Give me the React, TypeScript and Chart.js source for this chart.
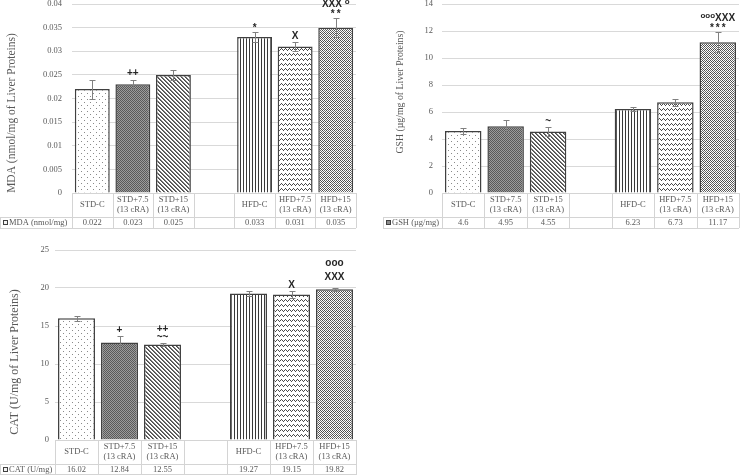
import React, { useEffect, useRef } from 'react';
import { Chart, registerables } from 'chart.js';
Chart.register(...registerables);

const SERIF = '"Liberation Serif", "Times New Roman", serif';
const SANS = '"Liberation Sans", Arial, sans-serif';

// ---------- data ----------
const categories: string[][] = [
  ['STD-C'],
  ['STD+7.5', '(13 cRA)'],
  ['STD+15', '(13 cRA)'],
  [''],
  ['HFD-C'],
  ['HFD+7.5', '(13 cRA)'],
  ['HFD+15', '(13 cRA)'],
];

const mdaValues: (number | null)[] = [0.022, 0.023, 0.025, null, 0.033, 0.031, 0.035];
const mdaErrors: (number | null)[] = [0.002, 0.001, 0.0011, null, 0.0011, 0.0009, 0.002];
const mdaTicks = [0, 0.005, 0.01, 0.015, 0.02, 0.025, 0.03, 0.035, 0.04];

const gshValues: (number | null)[] = [4.6, 4.95, 4.55, null, 6.23, 6.73, 11.17];
const gshErrors: (number | null)[] = [0.25, 0.44, 0.33, null, 0.15, 0.25, 0.76];
const gshTicks = [0, 2, 4, 6, 8, 10, 12, 14];

const catValues: (number | null)[] = [16.02, 12.84, 12.55, null, 19.27, 19.15, 19.82];
const catErrors: (number | null)[] = [0.3, 0.78, 0.2, null, 0.3, 0.45, 0.2];
const catTicks = [0, 5, 10, 15, 20, 25];

type Mark = { i: number; lines: string[]; lead?: number; step?: number };
const mdaMarks: Mark[] = [
  { i: 1, lines: ['++'] },
  { i: 4, lines: ['*'] },
  { i: 5, lines: ['X'] },
  { i: 6, lines: ['XXX |^o', '**'] },
];
const gshMarks: Mark[] = [
  { i: 2, lines: ['~'] },
  { i: 6, lines: ['^ooo|XXX', '***'] },
];
const catMarks: Mark[] = [
  { i: 1, lines: ['+'] },
  { i: 2, lines: ['++', '~~'] },
  { i: 5, lines: ['X'] },
  { i: 6, lines: ['ooo', 'XXX'], lead: 11, step: 14 },
];

const barKinds = ['dots', 'check', 'diag', 'none', 'vert', 'zig', 'dense'];

// ---------- patterns ----------
function makePattern(kind: string): CanvasPattern | string {
  const c = document.createElement('canvas');
  const ctx = c.getContext('2d')!;
  const size = (w: number, h: number) => {
    c.width = w;
    c.height = h;
  };
  const bg = (col: string) => {
    ctx.fillStyle = col;
    ctx.fillRect(0, 0, c.width, c.height);
  };
  const px = (x: number, y: number, col: string) => {
    ctx.fillStyle = col;
    ctx.fillRect(x, y, 1, 1);
  };
  switch (kind) {
    case 'dots':
      size(6, 6);
      bg('#ffffff');
      px(0, 0, '#8a8a8a');
      px(3, 3, '#8a8a8a');
      break;
    case 'check':
      size(2, 2);
      bg('#9c9c9c');
      px(0, 0, '#5a5a5a');
      px(1, 1, '#5a5a5a');
      break;
    case 'diag':
      size(4, 4);
      bg('#ffffff');
      for (let i = 0; i < 4; i++) {
        px(i, i, '#4a4a4a');
        px((i + 1) % 4, i, '#7a7a7a');
      }
      break;
    case 'vert':
      size(3, 1);
      bg('#ffffff');
      px(0, 0, '#3a3a3a');
      break;
    case 'zig': {
      size(4, 5);
      bg('#ffffff');
      const ys = [1, 0, 1, 2];
      ys.forEach((y, x) => px(x, y, '#4a4a4a'));
      break;
    }
    case 'dense': {
      size(4, 4);
      bg('#ffffff');
      const ys = [0, 1, 2, 1];
      ys.forEach((y, x) => {
        px(x, y, '#4a4a4a');
        px(x, (y + 2) % 4, '#6a6a6a');
      });
      break;
    }
    default:
      return 'rgba(0,0,0,0)';
  }
  return ctx.createPattern(c, 'repeat')!;
}

// ---------- panel spec ----------
type PanelSpec = {
  values: (number | null)[];
  errors: (number | null)[];
  ticks: number[];
  marks: Mark[];
  title: string;
  titleSize: number;
  titleX: number;
  titleY: number;
  series: string;
  keyFill: string;
  left: number;
  top: number;
  width: number;
  height: number;
  pad: { top: number; right: number; bottom: number; left: number };
  axisWidth: number;
  tickPad: number;
  legendLeft: number;
  row1: number;
  row2: number;
};

const panels: PanelSpec[] = [
  {
    values: mdaValues,
    errors: mdaErrors,
    ticks: mdaTicks,
    marks: mdaMarks,
    title: 'MDA (nmol/mg of Liver Proteins)',
    titleSize: 11.5,
    titleX: 12,
    titleY: 125,
    series: 'MDA (nmol/mg)',
    keyFill: '#f2f2f2',
    left: 0,
    top: -12,
    width: 362,
    height: 244,
    pad: { top: 16, right: 6, bottom: 39, left: 0 },
    axisWidth: 72,
    tickPad: 10,
    legendLeft: 0,
    row1: 24,
    row2: 11,
  },
  {
    values: gshValues,
    errors: gshErrors,
    ticks: gshTicks,
    marks: gshMarks,
    title: 'GSH (µg/mg of Liver Proteins)',
    titleSize: 9.8,
    titleX: 30,
    titleY: 104,
    series: 'GSH (µg/mg)',
    keyFill: '#8c8c8c',
    left: 370,
    top: -12,
    width: 370,
    height: 244,
    pad: { top: 16, right: 1, bottom: 39, left: 0 },
    axisWidth: 72,
    tickPad: 9,
    legendLeft: 13,
    row1: 24,
    row2: 11,
  },
  {
    values: catValues,
    errors: catErrors,
    ticks: catTicks,
    marks: catMarks,
    title: 'CAT (U/mg of Liver Proteins)',
    titleSize: 12,
    titleX: 15,
    titleY: 128,
    series: 'CAT (U/mg)',
    keyFill: '#f2f2f2',
    left: 0,
    top: 234,
    width: 362,
    height: 241,
    pad: { top: 16, right: 6, bottom: 35, left: 0 },
    axisWidth: 55,
    tickPad: 6,
    legendLeft: 0,
    row1: 24,
    row2: 11,
  },
];

function drawMarkLine(ctx: CanvasRenderingContext2D, line: string, cx: number, cy: number) {
  const segs = line.split('|').map((s) => (s.startsWith('^') ? { t: s.slice(1), sup: true } : { t: s, sup: false }));
  const fontFor = (sup: boolean) => (sup ? `bold 8px ${SANS}` : `bold 10px ${SANS}`);
  const spacingFor = (t: string) => (t.includes('*') ? 2 : 0);
  let total = 0;
  const widths = segs.map((s) => {
    ctx.font = fontFor(s.sup);
    const w = ctx.measureText(s.t).width + spacingFor(s.t) * (s.t.length - 1);
    total += w;
    return w;
  });
  let x = cx - total / 2;
  segs.forEach((s, k) => {
    ctx.font = fontFor(s.sup);
    ctx.textAlign = 'left';
    ctx.textBaseline = 'middle';
    const dy = s.sup ? -2.5 : s.t.includes('*') ? 2.5 : 0;
    const sp = spacingFor(s.t);
    let cxp = x;
    for (const ch of s.t) {
      ctx.fillText(ch, cxp, cy + dy);
      cxp += ctx.measureText(ch).width + sp;
    }
    x += widths[k];
  });
}

function Panel({ spec }: { spec: PanelSpec }) {
  const ref = useRef<HTMLCanvasElement | null>(null);
  useEffect(() => {
    const canvas = ref.current;
    if (!canvas) return;
    const fills = barKinds.map((k) => makePattern(k));

    const errorPlugin = {
      id: 'errorBars',
      afterDatasetsDraw(chart: any) {
        const { ctx, scales } = chart;
        const x = scales.x;
        const y = scales.y;
        ctx.save();
        ctx.strokeStyle = '#808080';
        ctx.lineWidth = 1;
        spec.values.forEach((v, i) => {
          const e = spec.errors[i];
          if (v == null || e == null) return;
          const cx = Math.round(x.getPixelForValue(i)) + 0.5;
          const yt = Math.round(y.getPixelForValue(v + e)) + 0.5;
          const yb = Math.round(y.getPixelForValue(v - e)) + 0.5;
          ctx.beginPath();
          ctx.moveTo(cx, yt);
          ctx.lineTo(cx, yb);
          ctx.moveTo(cx - 3, yt);
          ctx.lineTo(cx + 3, yt);
          ctx.moveTo(cx - 3, yb);
          ctx.lineTo(cx + 3, yb);
          ctx.stroke();
        });
        ctx.restore();
      },
    };

    const tablePlugin = {
      id: 'dataTable',
      afterDraw(chart: any) {
        const { ctx, chartArea: ca, scales } = chart;
        const x = scales.x;
        const y = scales.y;
        const n = categories.length;
        const slot = (ca.right - ca.left) / n;
        const top = ca.bottom;
        const r1 = top + spec.row1;
        const r2 = r1 + spec.row2;
        const crisp = (v: number) => Math.round(v) + 0.5;
        const bottomLine = Math.min(crisp(r2), chart.height - 0.5);
        ctx.save();
        ctx.strokeStyle = '#d4d4d4';
        ctx.lineWidth = 1;
        ctx.beginPath();
        ctx.moveTo(ca.left, crisp(top));
        ctx.lineTo(ca.right, crisp(top));
        ctx.moveTo(spec.legendLeft, crisp(r1));
        ctx.lineTo(ca.right, crisp(r1));
        ctx.moveTo(spec.legendLeft, bottomLine);
        ctx.lineTo(ca.right, bottomLine);
        for (let k = 0; k <= n; k++) {
          const bx = crisp(x.getPixelForValue(Math.min(k, n - 1)) + (k === n ? slot / 2 : -slot / 2));
          ctx.moveTo(bx, top);
          ctx.lineTo(bx, r2);
        }
        ctx.moveTo(crisp(spec.legendLeft), r1);
        ctx.lineTo(crisp(spec.legendLeft), r2);
        ctx.stroke();

        // category labels & values
        ctx.fillStyle = '#595959';
        ctx.font = `8.5px ${SERIF}`;
        ctx.textAlign = 'center';
        ctx.textBaseline = 'middle';
        categories.forEach((lines, i) => {
          const cx = x.getPixelForValue(i);
          const mid = (top + r1) / 2;
          const lh = 10.5;
          lines.forEach((t, j) => {
            ctx.fillText(t, cx, mid + (j - (lines.length - 1) / 2) * lh);
          });
          const v = spec.values[i];
          if (v != null) ctx.fillText(String(v), cx, (r1 + r2) / 2 + 0.5);
        });

        // legend key cell
        const ky = (r1 + r2) / 2;
        ctx.fillStyle = spec.keyFill;
        ctx.fillRect(spec.legendLeft + 3, Math.round(ky - 2.5), 5, 5);
        ctx.strokeStyle = '#404040';
        ctx.strokeRect(spec.legendLeft + 3.5, Math.round(ky - 2.5) + 0.5, 4, 4);
        ctx.fillStyle = '#595959';
        ctx.textAlign = 'left';
        ctx.fillText(spec.series, spec.legendLeft + 9, ky + 0.5);

        // axis title
        ctx.save();
        ctx.translate(spec.titleX, spec.titleY);
        ctx.rotate(-Math.PI / 2);
        ctx.font = `${spec.titleSize}px ${SERIF}`;
        ctx.textAlign = 'center';
        ctx.textBaseline = 'middle';
        ctx.fillStyle = '#595959';
        ctx.fillText(spec.title, 0, 0);
        ctx.restore();

        // significance marks
        ctx.fillStyle = '#262626';
        spec.marks.forEach((m) => {
          const v = spec.values[m.i];
          const e = spec.errors[m.i] ?? 0;
          if (v == null) return;
          const cx = x.getPixelForValue(m.i);
          const yTop = y.getPixelForValue(v + e);
          const lead = m.lead ?? 6;
          const step = m.step ?? 8;
          const count = m.lines.length;
          m.lines.forEach((line, j) => {
            const fromBottom = count - 1 - j;
            drawMarkLine(ctx, line, cx, yTop - lead - fromBottom * step);
          });
        });
        ctx.restore();
      },
    };

    const chart = new Chart(canvas, {
      type: 'bar',
      data: {
        labels: categories,
        datasets: [
          {
            data: spec.values,
            backgroundColor: fills,
            borderColor: '#404040',
            borderWidth: 1.5,
            barPercentage: 0.86,
            categoryPercentage: 1,
          } as any,
        ],
      },
      options: {
        responsive: false,
        animation: false,
        devicePixelRatio: 1,
        layout: { padding: spec.pad },
        plugins: { legend: { display: false }, tooltip: { enabled: false } },
        scales: {
          x: { display: false },
          y: {
            min: spec.ticks[0],
            max: spec.ticks[spec.ticks.length - 1],
            afterBuildTicks: (s: any) => {
              s.ticks = spec.ticks.map((v) => ({ value: v }));
            },
            afterFit: (s: any) => {
              s.width = spec.axisWidth;
            },
            grid: { color: '#d9d9d9', drawTicks: false },
            border: { display: false },
            ticks: {
              padding: spec.tickPad,
              color: '#595959',
              font: { family: SERIF, size: 8.5 },
              callback: (v: any) => String(v),
            },
          },
        },
      } as any,
      plugins: [errorPlugin, tablePlugin],
    });
    return () => chart.destroy();
  }, [spec]);

  return (
    <div style={{ position: 'absolute', left: spec.left, top: spec.top, width: spec.width, height: spec.height }}>
      <canvas ref={ref} width={spec.width} height={spec.height} style={{ width: spec.width, height: spec.height, display: 'block' }} />
    </div>
  );
}

export default function App() {
  return (
    <div style={{ position: 'fixed', left: 0, top: 0, width: 740, height: 475, background: '#ffffff', overflow: 'hidden' }}>
      {panels.map((p, k) => (
        <Panel key={k} spec={p} />
      ))}
    </div>
  );
}
